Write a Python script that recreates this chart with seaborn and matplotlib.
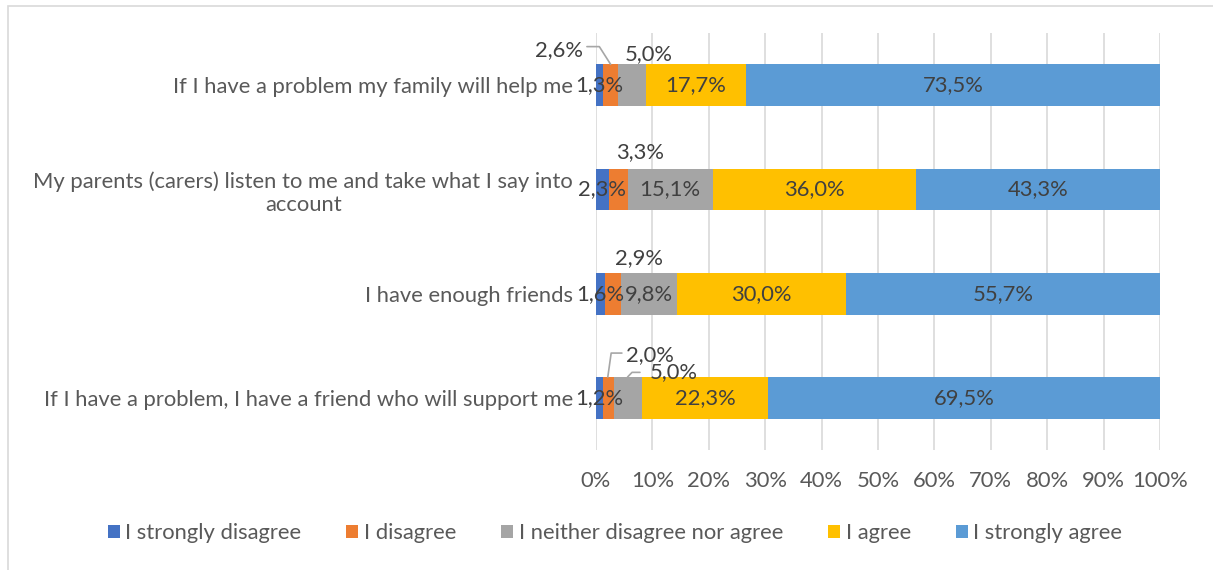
import matplotlib
matplotlib.use("Agg")
import matplotlib.pyplot as plt
from matplotlib.patches import Patch, Rectangle
import seaborn as sns
import numpy as np

# Survey statements (top to bottom) and answer shares in percent
statements = [
    "If I have a problem my family will help me",
    "My parents (carers) listen to me and take what I say into\naccount",
    "I have enough friends",
    "If I have a problem, I have a friend who will support me",
]
answers = ["I strongly disagree", "I disagree", "I neither disagree nor agree",
           "I agree", "I strongly agree"]
strongly_disagree = [1.3, 2.3, 1.6, 1.2]
disagree = [2.6, 3.3, 2.9, 2.0]
neither = [5.0, 15.1, 9.8, 5.0]
agree = [17.7, 36.0, 30.0, 22.3]
strongly_agree = [73.5, 43.3, 55.7, 69.5]
ticks = [0, 10, 20, 30, 40, 50, 60, 70, 80, 90, 100]

colors = ["#4472C4", "#ED7D31", "#A5A5A5", "#FFC000", "#5B9BD5"]
text_c = "#404040"
axis_c = "#595959"
grid_c = "#D9D9D9"
fs = 15.8

sns.set_theme(style="white")
plt.rcParams["font.family"] = ["Lato", "DejaVu Sans"]

series = np.array([strongly_disagree, disagree, neither, agree, strongly_agree])
cum = np.cumsum(series, axis=0)
left = cum - series

fig = plt.figure(figsize=(12.13, 5.70), dpi=100)
ax = fig.add_axes([0.4913, 0.2105, 0.4650, 0.7315])

# stacked bars: draw cumulative totals from the widest down
for k in range(len(answers) - 1, -1, -1):
    sns.barplot(x=cum[k], y=statements, color=colors[k], orient="h",
                width=0.4, linewidth=0, saturation=1, ax=ax, zorder=3)

ax.set_xlim(0, 100)
ax.set_ylim(3.5, -0.5)
ax.set_xticks(ticks)
ax.set_xticklabels([f"{t}%" for t in ticks], color=axis_c, fontsize=fs)
ax.tick_params(axis="x", length=0, pad=15)
ax.tick_params(axis="y", length=0, pad=16.5, labelsize=fs, labelcolor=axis_c)
for lab in ax.get_yticklabels():
    lab.set_multialignment("center")
ax.set_xlabel("")
ax.set_ylabel("")
for s in ax.spines.values():
    s.set_visible(False)
ax.xaxis.grid(True, color=grid_c, linewidth=1.2, zorder=0)
ax.set_axisbelow(True)


def fmt(v):
    return f"{v:.1f}%".replace(".", ",")


# label placement for small segments: (row, series) -> text position and leader path
callouts = {
    (0, 1): ((-6.6, -0.34), [(-1.6, -0.37), (0.6, -0.37), (2.6, -0.2)]),
    (0, 2): ((9.4, -0.30), None),
    (1, 1): ((7.8, -0.36), None),
    (2, 1): ((7.6, -0.34), None),
    (3, 1): ((9.6, -0.41), [(4.6, -0.43), (2.7, -0.43), (2.1, -0.2)]),
    (3, 2): ((13.8, -0.245), [(7.8, -0.245), (6.4, -0.245), (5.6, -0.2)]),
}

for i in range(len(statements)):
    for k in range(len(answers)):
        v = series[k, i]
        if (i, k) in callouts:
            (tx, dy), path = callouts[(i, k)]
            ax.text(tx, i + dy, fmt(v), ha="center", va="center",
                    fontsize=fs, color=text_c, zorder=5)
            if path:
                xs = [p[0] for p in path]
                ys = [i + p[1] for p in path]
                ax.plot(xs, ys, color="#A6A6A6", linewidth=1.2, zorder=4,
                        clip_on=False)
        else:
            ax.text(left[k, i] + v / 2, i, fmt(v), ha="center", va="center",
                    fontsize=fs, color=text_c, zorder=5)

handles = [Patch(facecolor=c, edgecolor="none") for c in colors]
fig.legend(handles, answers, loc="center", bbox_to_anchor=(0.507, 0.065),
           ncol=5, frameon=False, fontsize=fs, handlelength=0.55,
           handleheight=0.55, handletextpad=0.25, columnspacing=2.05,
           labelcolor=axis_c)

fig.patches.append(Rectangle((8 / 1213, -0.1), 1.2, 1.1 - 6 / 570,
                             transform=fig.transFigure, fill=False,
                             edgecolor=grid_c, linewidth=1.2))

fig.savefig("out.png", dpi=100)
